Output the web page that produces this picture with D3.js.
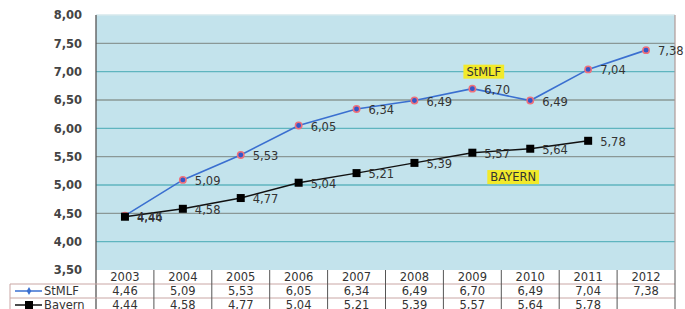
<!DOCTYPE html>
<html>
<head>
<meta charset="utf-8">
<script src="https://cdn.jsdelivr.net/npm/d3@7"></script>
<style>
body{margin:0;background:#fff;}
svg text{font-family:"DejaVu Sans",Verdana,sans-serif;}
</style>
</head>
<body>
<div class="chart"></div>
<script>
var years=['2003','2004','2005','2006','2007','2008','2009','2010','2011','2012'];
var stmlf=[4.46,5.09,5.53,6.05,6.34,6.49,6.70,6.49,7.04,7.38];
var bayern=[4.44,4.58,4.77,5.04,5.21,5.39,5.57,5.64,5.78,null];
var yTicks=[3.5,4,4.5,5,5.5,6,6.5,7,7.5,8];
var seriesNames=['StMLF','Bayern'];

function fmt(v){
    return v==null ? '' : v.toFixed(2).replace('.',',');
}

function drawChart(){
    var W=685, H=309;
    var left=96, right=675, top=15, bottom=270;
    var fs='11.5px';

    var svg=d3.select('.chart').append('svg')
        .attr('width',W)
        .attr('height',H);

    var x=d3.scaleBand().domain(years).range([left,right]);
    var y=d3.scaleLinear().domain([3.5,8]).range([bottom,top]);

    // plot background
    svg.append('rect')
        .attr('x',left).attr('y',top)
        .attr('width',right-left).attr('height',bottom-top)
        .attr('fill','#c3e3ec');

    // grid lines, alternating colours like the original
    svg.selectAll('.grid')
        .data(yTicks.slice(1))
        .enter().append('line')
        .attr('x1',left).attr('x2',right)
        .attr('y1',function(d){return y(d);})
        .attr('y2',function(d){return y(d);})
        .attr('stroke',function(d,i){
            if (d==8) return '#d6e8ec';
            return (i%2==0) ? '#5fb5bf' : '#8a9896';
        })
        .attr('stroke-width',1.3);

    svg.append('line')
        .attr('x1',right).attr('x2',right).attr('y1',top).attr('y2',bottom)
        .attr('stroke','#b09a98').attr('stroke-width',1.2);

    // y axis
    var yAxis=d3.axisLeft(y).tickValues(yTicks).tickSize(0).tickPadding(14).tickFormat(fmt);
    var ga=svg.append('g').attr('transform','translate('+left+',0)').call(yAxis);
    ga.select('.domain').remove();
    ga.selectAll('text')
        .attr('font-size',fs)
        .attr('font-family','"DejaVu Sans",Verdana,sans-serif')
        .attr('font-weight','bold')
        .attr('fill','#444');

    svg.append('line')
        .attr('x1',left).attr('x2',left).attr('y1',top).attr('y2',bottom+42)
        .attr('stroke','#555').attr('stroke-width',1.3);

    // lines
    var line=d3.line()
        .defined(function(d){return d!=null;})
        .x(function(d,i){return x(years[i])+x.bandwidth()/2;})
        .y(function(d){return y(d);});

    svg.append('path').datum(stmlf)
        .attr('d',line).attr('fill','none')
        .attr('stroke','#3a6fd0').attr('stroke-width',1.6);
    svg.append('path').datum(bayern)
        .attr('d',line).attr('fill','none')
        .attr('stroke','#111').attr('stroke-width',1.4);

    // markers
    svg.selectAll('.mS').data(stmlf).enter().append('circle')
        .attr('cx',function(d,i){return x(years[i])+x.bandwidth()/2;})
        .attr('cy',function(d){return y(d);})
        .attr('r',3.2)
        .attr('fill','#3556c8')
        .attr('stroke','#f0707a').attr('stroke-width',1.5);

    var bData=bayern.map(function(d,i){return {v:d,i:i};}).filter(function(d){return d.v!=null;});
    svg.selectAll('.mB').data(bData).enter().append('rect')
        .attr('x',function(d){return x(years[d.i])+x.bandwidth()/2-4;})
        .attr('y',function(d){return y(d.v)-4;})
        .attr('width',8).attr('height',8)
        .attr('fill','#000');

    // value labels
    svg.selectAll('.lS').data(stmlf).enter().append('text')
        .attr('x',function(d,i){return x(years[i])+x.bandwidth()/2+12;})
        .attr('y',function(d){return y(d)+5;})
        .attr('font-size',fs)
        .attr('fill','#333')
        .text(fmt);
    svg.selectAll('.lB').data(bData).enter().append('text')
        .attr('x',function(d){return x(years[d.i])+x.bandwidth()/2+12;})
        .attr('y',function(d){return y(d.v)+5;})
        .attr('font-size',fs)
        .attr('fill','#333')
        .text(function(d){return fmt(d.v);});

    // yellow annotations
    var notes=[{t:'StMLF',x:x('2009')+20,y:y(7.0)},{t:'BAYERN',x:x('2010')-14,y:y(5.14)}];
    notes.forEach(function(n){
        var g=svg.append('g');
        var t=g.append('text')
            .attr('x',n.x+3).attr('y',n.y+4)
            .attr('font-size',fs)
            .attr('fill','#333').text(n.t);
        var bb=t.node().getBBox();
        g.insert('rect','text')
            .attr('x',bb.x-3).attr('y',bb.y)
            .attr('width',bb.width+6).attr('height',bb.height)
            .attr('fill','#f2ea2a');
    });

    // data table below
    var rowH=14;
    var rows=[years,stmlf.map(fmt),bayern.map(fmt)];
    var tY=bottom;
    rows.forEach(function(r,ri){
        svg.selectAll('.c'+ri).data(r).enter().append('text')
            .attr('x',function(d,i){return x(years[i])+x.bandwidth()/2;})
            .attr('y',tY+ri*rowH+rowH/2+4)
            .attr('text-anchor','middle')
            .attr('font-size',fs)
            .attr('fill','#333')
            .text(function(d){return d;});
    });
    // table grid
    for (var k=1;k<=3;k++){
        svg.append('line')
            .attr('x1',10).attr('x2',right)
            .attr('y1',tY+k*rowH).attr('y2',tY+k*rowH)
            .attr('stroke','#c9a6a4').attr('stroke-width',1);
    }
    years.forEach(function(d){
        svg.append('line')
            .attr('x1',x(d)+x.bandwidth()).attr('x2',x(d)+x.bandwidth())
            .attr('y1',tY).attr('y2',H)
            .attr('stroke','#555').attr('stroke-width',1);
    });
    svg.append('line')
        .attr('x1',10).attr('x2',10).attr('y1',tY+rowH).attr('y2',H)
        .attr('stroke','#c9a6a4');

    // legend keys in the table
    var keyColors=['#3a6fd0','#111'];
    seriesNames.forEach(function(s,i){
        var cy=tY+(i+1)*rowH+rowH/2;
        svg.append('line')
            .attr('x1',15).attr('x2',42).attr('y1',cy).attr('y2',cy)
            .attr('stroke',keyColors[i]).attr('stroke-width',1.5);
        if (i==0){
            svg.append('path')
                .attr('d',d3.symbol().type(d3.symbolDiamond).size(18))
                .attr('transform','translate(29,'+cy+')')
                .attr('fill','#3a6fd0');
        } else {
            svg.append('rect')
                .attr('x',25).attr('y',cy-4).attr('width',8).attr('height',8)
                .attr('fill','#000');
        }
        svg.append('text')
            .attr('x',44).attr('y',cy+4)
            .attr('font-size',fs)
            .attr('fill','#333')
            .text(s);
    });
}
drawChart();
</script>
</body>
</html>
